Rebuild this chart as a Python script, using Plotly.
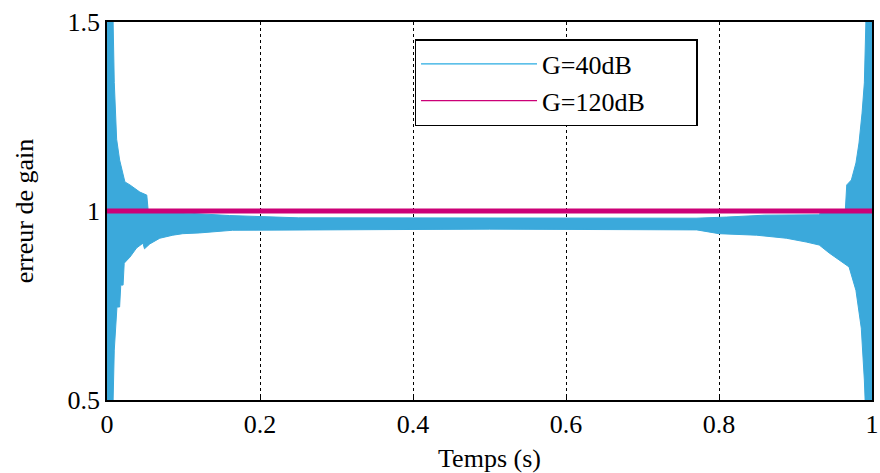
import plotly.graph_objects as go

# ---- data ----
# G=40dB : envelope of the dense oscillating error signal
upper_t = [0.0, 0.008, 0.0095, 0.0126, 0.0165, 0.021, 0.0234, 0.030, 0.043, 0.052, 0.054,
           0.10, 0.16, 0.25, 0.50, 0.77, 0.81, 0.86, 0.93, 0.935, 0.965, 0.967, 0.973,
           0.979, 0.983, 0.987, 0.990, 0.992, 1.0]
upper_v = [1.5, 1.5, 1.34, 1.19, 1.135, 1.10, 1.077, 1.069, 1.05, 1.042, 0.998,
           0.995, 0.988, 0.982, 0.981, 0.981, 0.984, 0.989, 0.990, 0.998, 0.998, 1.069, 1.082,
           1.127, 1.18, 1.259, 1.339, 1.5, 1.5]
lower_t = [0.0, 0.008, 0.0095, 0.013, 0.0165, 0.018, 0.021, 0.0225, 0.030, 0.0386, 0.047,
           0.049, 0.056, 0.069, 0.086, 0.099, 0.121, 0.164, 0.25, 0.50, 0.771, 0.80, 0.849,
           0.888, 0.914, 0.931, 0.944, 0.957, 0.970, 0.979, 0.986, 0.990, 0.991, 1.0]
lower_v = [0.5, 0.5, 0.632, 0.746, 0.746, 0.804, 0.804, 0.862, 0.878, 0.902, 0.915,
           0.900, 0.913, 0.928, 0.936, 0.940, 0.942, 0.949, 0.950, 0.952, 0.950, 0.940, 0.936,
           0.928, 0.918, 0.910, 0.889, 0.870, 0.852, 0.790, 0.690, 0.553, 0.5, 0.5]

# G=120dB : constant gain error
t_120 = [0.0, 1.0]
g_120 = [1.0, 1.0]

series_names = ["G=40dB", "G=120dB"]

x_ticks = [0, 0.2, 0.4, 0.6, 0.8, 1]
x_ticktext = ["0", "0.2", "0.4", "0.6", "0.8", "1"]
y_ticks = [0.5, 1, 1.5]
y_ticktext = ["0.5", "1", "1.5"]

BLUE = "#3BA9DB"
BLUE_LEG = "#29ABE2"
MAGENTA = "#CC0077"
FONT = "Liberation Serif"
PAD = "\u00a0" * 7

fig = go.Figure()

poly_x = upper_t + lower_t[::-1]
poly_y = upper_v + lower_v[::-1]
fig.add_trace(go.Scatter(x=poly_x, y=poly_y, mode="lines", fill="toself",
                         fillcolor=BLUE, line=dict(color=BLUE, width=1),
                         showlegend=False, hoverinfo="skip"))
fig.add_trace(go.Scatter(x=t_120, y=g_120, mode="lines",
                         line=dict(color=MAGENTA, width=5), showlegend=False))

# legend entries
fig.add_trace(go.Scatter(x=[None], y=[None], mode="lines", name=series_names[0] + PAD,
                         line=dict(color=BLUE_LEG, width=1.2)))
fig.add_trace(go.Scatter(x=[None], y=[None], mode="lines", name=series_names[1] + PAD,
                         line=dict(color=MAGENTA, width=1.2)))

axis_common = dict(showline=True, linecolor="black", linewidth=1.5, mirror=True,
                   ticks="inside", ticklen=5, tickcolor="black",
                   showgrid=True, gridcolor="black", gridwidth=1, griddash="dot",
                   zeroline=False, layer="below traces", ticklabeloverflow="allow",
                   tickfont=dict(family=FONT, size=26, color="black"))

fig.update_xaxes(range=[0, 1], tickvals=x_ticks, ticktext=x_ticktext,
                 title=dict(text="Temps (s)", font=dict(family=FONT, size=26, color="black"),
                            standoff=12),
                 **axis_common)
fig.update_yaxes(range=[0.5, 1.5], tickvals=y_ticks, ticktext=y_ticktext,
                 title=dict(text="erreur de gain", font=dict(family=FONT, size=26, color="black"),
                            standoff=26),
                 **axis_common)

fig.update_layout(
    width=880, height=473,
    margin=dict(l=107, r=8, t=22, b=73, autoexpand=False),
    paper_bgcolor="white", plot_bgcolor="white",
    font=dict(family=FONT, size=26, color="black"),
    legend=dict(x=0.402, y=0.955, xanchor="left", yanchor="top",
                bgcolor="white", bordercolor="black", borderwidth=1.5,
                font=dict(family=FONT, size=26, color="black"),
                itemwidth=116, tracegroupgap=0),
)

fig.write_html("out.html", config={"displayModeBar": False},
               post_script="document.body.style.margin='0';")
